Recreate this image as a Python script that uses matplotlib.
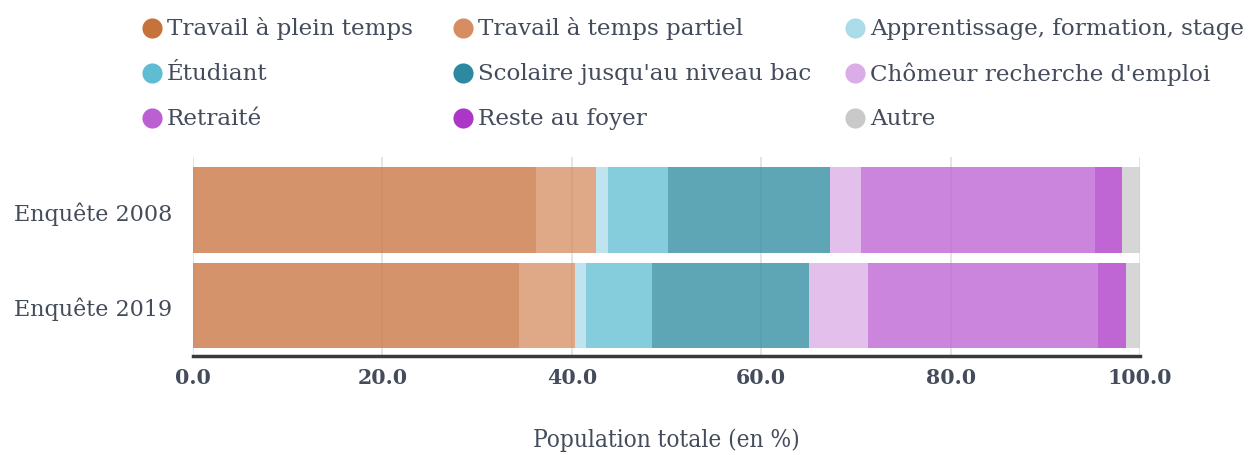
import matplotlib
matplotlib.use("Agg")
import matplotlib.pyplot as plt
import numpy as np

surveys = ["Enquête 2019", "Enquête 2008"]
categories = ["Travail à plein temps", "Travail à temps partiel",
              "Apprentissage, formation, stage", "Étudiant",
              "Scolaire jusqu'au niveau bac", "Chômeur recherche d'emploi",
              "Retraité", "Reste au foyer", "Autre"]
values_2019 = [34.4, 5.9, 1.2, 7.0, 16.6, 6.2, 24.3, 2.9, 1.5]
values_2008 = [36.2, 6.4, 1.2, 6.4, 17.1, 3.2, 24.8, 2.8, 1.9]
colors = ["#c7713b", "#d58d61", "#abdcea", "#5fbcd3", "#2c89a0",
          "#dbade7", "#bc5fd3", "#ac36c7", "#c9c9c9"]
xticks = [0, 20, 40, 60, 80, 100]
xtick_labels = ["0.0", "20.0", "40.0", "60.0", "80.0", "100.0"]
x_title = "Population totale (en %)"

TXT = "#444c5c"
FONT = "DejaVu Serif"

W, H = 1254, 456
fig = plt.figure(figsize=(W / 100, H / 100), dpi=100)
ax = fig.add_axes([193 / W, (H - 357) / H, (1140 - 193) / W, (357 - 158) / H])

data = np.array([values_2019, values_2008])
ypos = np.arange(len(surveys))
left = np.zeros(len(surveys))
for i, cat in enumerate(categories):
    ax.barh(ypos, data[:, i], left=left, height=0.9, color=colors[i],
            alpha=0.76, linewidth=0, zorder=2)
    left += data[:, i]

ax.set_xlim(0, 100)
ax.set_ylim(-0.53, 1.56)
ax.set_xticks(xticks)
ax.set_xticklabels(xtick_labels, fontfamily=FONT, fontsize=14.8,
                   fontweight="bold", color=TXT)
ax.set_yticks(ypos)
ax.set_yticklabels(surveys, fontfamily=FONT, fontsize=16.0, color=TXT)
ax.tick_params(axis="x", length=0, pad=8)
ax.tick_params(axis="y", length=0, pad=15)
ax.grid(axis="x", color="#e3e3e3", linewidth=1.3, zorder=0)
ax.set_axisbelow(True)
for s in ["top", "right", "left"]:
    ax.spines[s].set_visible(False)
ax.spines["bottom"].set_color("#3a3a3a")
ax.spines["bottom"].set_linewidth(2.5)
ax.spines["bottom"].set_zorder(3)

ax.set_xlabel(x_title, fontfamily=FONT, fontstretch="condensed",
              fontsize=17.5, color=TXT, labelpad=29)

# Legend, 3 columns row-wise
col_x = [152, 463, 855]
row_y = [29, 74, 119]
for i, cat in enumerate(categories):
    r, c = divmod(i, 3)
    mx = col_x[c] / W
    my = (H - row_y[r]) / H
    fig.lines.append(plt.Line2D([mx], [my], marker="o", markersize=14.5,
                                color=colors[i], markeredgewidth=0,
                                linestyle="none", transform=fig.transFigure))
    fig.text((col_x[c] + 15) / W, my, cat, fontfamily=FONT, fontsize=16.6,
             color=TXT, va="center", ha="left")

fig.savefig("out.png", dpi=100)
